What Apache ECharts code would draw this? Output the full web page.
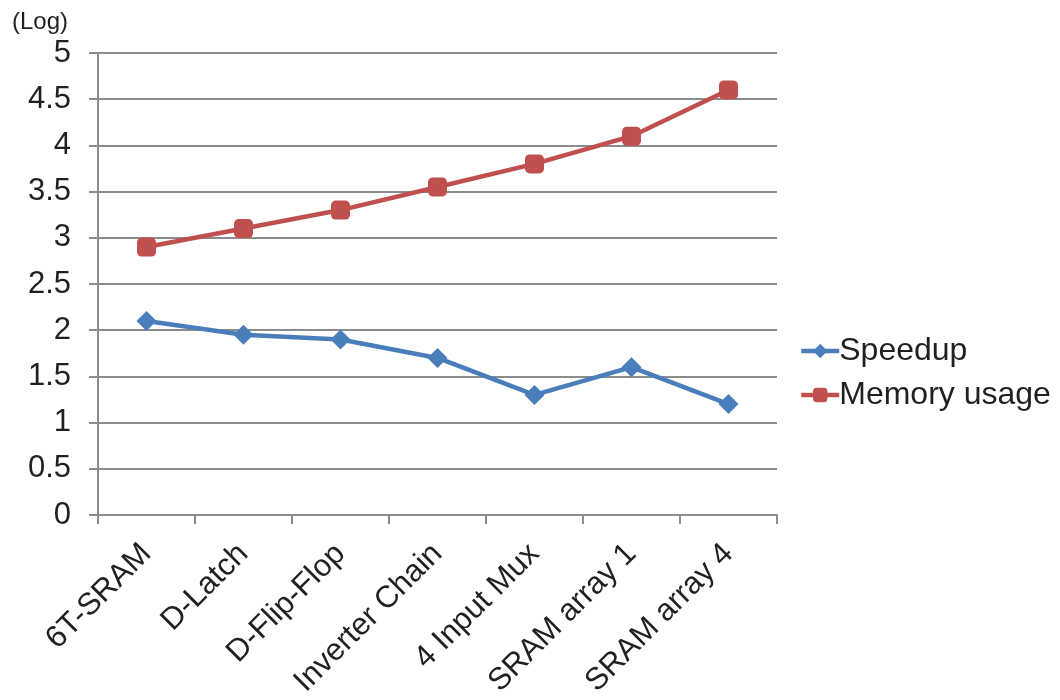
<!DOCTYPE html>
<html>
<head>
<meta charset="utf-8">
<style>
  html, body { margin: 0; padding: 0; background: #fff; }
  #chart { width: 1060px; height: 700px; }
</style>
<script src="https://cdn.jsdelivr.net/npm/echarts@6/dist/echarts.min.js"></script>
</head>
<body>
<div id="chart"></div>
<script>
// Benchmark circuits along the x axis
const categories = ['6T-SRAM', 'D-Latch', 'D-Flip-Flop', 'Inverter Chain', '4 Input Mux', 'SRAM array 1', 'SRAM array 4'];
// Log-scale values for each circuit
const speedup = [2.1, 1.95, 1.9, 1.7, 1.3, 1.6, 1.2];
const memoryUsage = [2.9, 3.1, 3.3, 3.55, 3.8, 4.1, 4.6];
const yTicks = [0, 0.5, 1, 1.5, 2, 2.5, 3, 3.5, 4, 4.5, 5];

const FONT = '"Liberation Sans", Arial, sans-serif';
const GRID_COLOR = '#8c8c8c';
const TEXT_COLOR = '#231f20';

const chart = echarts.init(document.getElementById('chart'), null, { renderer: 'canvas' });
chart.setOption({
  animation: false,
  backgroundColor: '#ffffff',
  textStyle: { fontFamily: FONT },
  graphic: [{
    type: 'text',
    left: 12,
    top: 10,
    style: { text: '(Log)', font: '24px ' + FONT, fill: TEXT_COLOR }
  }],
  legend: {
    orient: 'vertical',
    left: 794,
    top: 330,
    itemGap: 12,
    itemWidth: 38,
    itemHeight: 18,
    lineStyle: { width: 4.5 },
    textStyle: { fontSize: 32, color: TEXT_COLOR, fontFamily: FONT, padding: [0, 0, 0, -5] },
    data: ['Speedup', 'Memory usage']
  },
  grid: { left: 98, right: 283, top: 53, bottom: 185, containLabel: false },
  xAxis: {
    type: 'category',
    data: categories,
    boundaryGap: true,
    axisLine: { lineStyle: { color: GRID_COLOR, width: 2 } },
    axisTick: { show: true, length: 9, alignWithLabel: false, lineStyle: { color: GRID_COLOR, width: 2 } },
    axisLabel: {
      rotate: 45,
      interval: 0,
      margin: 34,
      fontSize: 31,
      color: TEXT_COLOR,
      fontFamily: FONT
    },
    splitLine: { show: false }
  },
  yAxis: {
    type: 'value',
    min: yTicks[0],
    max: yTicks[yTicks.length - 1],
    interval: 0.5,
    axisLine: { show: true, lineStyle: { color: GRID_COLOR, width: 2 } },
    axisTick: { show: true, length: 9, lineStyle: { color: GRID_COLOR, width: 2 } },
    axisLabel: {
      fontSize: 31,
      color: TEXT_COLOR,
      fontFamily: FONT,
      margin: 27,
      formatter: v => String(v)
    },
    splitLine: { show: true, lineStyle: { color: GRID_COLOR, width: 2 } }
  },
  series: [
    {
      name: 'Speedup',
      type: 'line',
      data: speedup,
      symbol: 'diamond',
      symbolSize: 20,
      lineStyle: { color: '#4a7ebb', width: 4.5 },
      itemStyle: { color: '#4a7ebb' }
    },
    {
      name: 'Memory usage',
      type: 'line',
      data: memoryUsage,
      symbol: 'roundRect',
      symbolSize: 19,
      lineStyle: { color: '#c0504d', width: 4.5 },
      itemStyle: { color: '#c0504d' }
    }
  ]
});
</script>
</body>
</html>
